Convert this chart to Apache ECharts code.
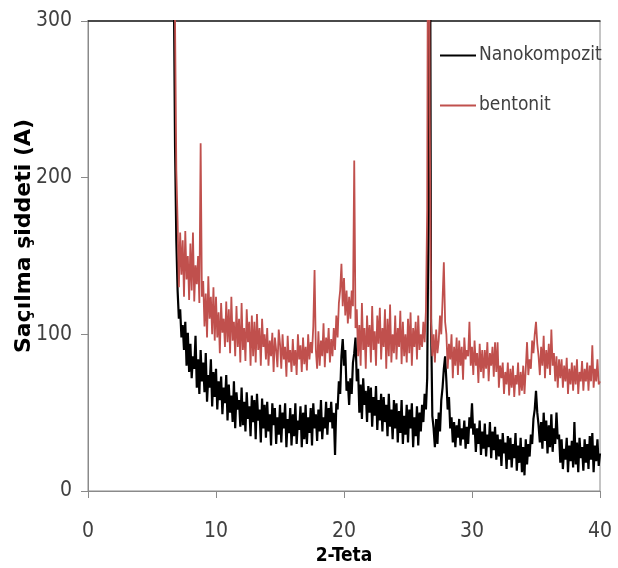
<!DOCTYPE html>
<html>
<head>
<meta charset="utf-8">
<script src="https://cdn.jsdelivr.net/npm/echarts@6/dist/echarts.min.js"></script>
<style>
html,body{margin:0;padding:0;background:#fff;}
#chart{width:618px;height:568px;}
</style>
</head>
<body>
<div id="chart"></div>
<script>
// 2-Teta sampling grid: first angle and step (degrees)
var thetaStart = 6.6;
var thetaStep = 0.1;
var xTicks = [0, 10, 20, 30, 40];
var yTicks = [0, 100, 200, 300];
var seriesNames = ['Nanokompozit', 'bentonit'];

var nanokompozit = [
460,330,220,160,
128,110,116,98,106,90,108,80,101,76,
94,72,86,78,99,66,84,62,90,70,
82,63,88,57,74,66,84,54,76,60,
78,52,70,58,73,49,66,56,74,45,
68,50,61,44,70,40,63,52,58,41,
66,42,57,38,63,46,54,35,61,44,
58,33,62,45,52,31,59,40,55,34,
57,38,49,29,56,42,53,30,47,36,
55,31,50,40,56,28,46,37,53,29,
49,35,56,30,45,39,54,28,50,33,
55,30,47,37,53,29,56,40,49,32,
52,38,58,33,47,40,57,36,53,44,
57,40,50,23,56,52,70,62,86,97,
80,90,64,70,55,72,62,82,88,98,
70,78,50,68,46,72,55,64,44,67,
50,66,41,60,48,67,39,58,45,62,
38,60,44,55,35,62,41,52,33,58,
40,56,31,51,37,58,30,48,36,55,
31,52,40,56,28,47,35,54,29,50,
38,55,44,62,52,72,180,450,110,48,
40,28,46,30,50,38,58,66,78,86,
70,52,60,40,47,31,44,28,42,34,
46,29,40,33,45,27,41,30,47,40,
56,36,43,25,40,30,45,23,38,27,
43,22,36,28,44,21,38,26,41,20,
36,22,33,16,37,24,31,14,35,20,
34,15,30,21,37,13,29,18,34,12,
28,10,33,17,30,22,36,30,46,52,
64,50,42,31,44,27,50,32,45,24,
42,28,49,25,40,30,50,33,36,18,
33,14,27,20,34,12,29,19,32,15,
44,17,31,12,34,21,28,13,33,18,
30,14,35,20,37,12,29,19,33,16,
24
];

var bentonit = [
500,420,300,205,
172,130,165,138,160,124,166,135,150,122,
158,128,165,121,144,132,150,120,222,124,
134,105,126,98,137,110,124,100,130,96,
124,98,114,88,120,101,110,92,121,95,
116,88,124,96,108,86,118,92,110,82,
120,90,104,83,116,95,108,80,112,86,
108,82,113,90,104,80,110,92,100,84,
104,80,96,86,101,76,98,90,79,103,
94,78,100,84,92,73,99,82,90,76,
97,80,90,74,100,84,93,76,98,81,
92,77,100,84,95,88,105,141,90,78,
102,80,96,86,107,79,98,88,104,82,
97,86,104,90,112,98,120,128,145,118,
136,112,128,107,124,110,128,118,211,104,
116,86,106,80,120,90,104,78,112,92,
106,82,118,90,102,80,112,94,117,84,
104,92,116,78,110,86,119,82,100,88,
112,84,104,92,115,81,108,86,100,82,
110,88,114,80,104,92,108,84,112,90,
100,92,108,95,115,180,520,240,108,86,
100,82,103,88,96,112,100,122,146,108,
100,78,94,84,100,72,92,80,98,74,
96,80,92,71,98,84,90,86,108,80,
92,74,96,80,88,69,94,76,90,72,
90,78,95,70,88,80,92,73,95,76,
95,66,80,72,82,62,76,68,82,61,
78,66,80,60,74,68,82,61,76,64,
80,62,78,95,74,84,78,96,88,100,
108,94,86,74,92,80,99,72,90,78,
94,74,103,80,88,70,86,66,84,72,
84,66,80,70,85,62,78,68,82,64,
80,68,84,62,76,70,83,64,78,70,
82,64,80,70,93,66,78,70,84,68,
70
];

function pairs(values) {
  return values.map(function (v, i) {
    return [Math.round((thetaStart + i * thetaStep) * 10) / 10, v];
  });
}

var FONT = "'DejaVu Sans Condensed', 'Liberation Sans Narrow', 'Noto Sans', sans-serif";
var chart = echarts.init(document.getElementById('chart'), null, {renderer: 'canvas'});
chart.setOption({
  animation: false,
  backgroundColor: '#ffffff',
  grid: {left: 88, right: 18, top: 21, bottom: 77, show: true, borderColor: '#8a8a8a', borderWidth: 1, containLabel: false, outerBoundsMode: 'none'},
  legend: {
    orient: 'vertical',
    left: 435,
    top: 41,
    itemWidth: 36,
    itemHeight: 2,
    itemGap: 31,
    data: [
      {name: seriesNames[0], icon: 'rect', itemStyle: {color: '#000000'}},
      {name: seriesNames[1], icon: 'rect', itemStyle: {color: '#C0504D'}}
    ],
    textStyle: {fontFamily: FONT, fontSize: 19, color: '#404040', padding: [0, 0, 0, -2]}
  },
  xAxis: [{
    type: 'value',
    min: xTicks[0],
    max: xTicks[xTicks.length - 1],
    interval: 10,
    name: '2-Teta',
    nameLocation: 'middle',
    nameGap: 50,
    nameTextStyle: {fontFamily: FONT, fontSize: 19, fontWeight: 'bold', color: '#000'},
    axisLine: {lineStyle: {color: '#8a8a8a', width: 1}},
    axisTick: {show: true, inside: false, length: 7, lineStyle: {color: '#8a8a8a'}},
    axisLabel: {fontFamily: FONT, fontSize: 21, color: '#404040', margin: 30},
    splitLine: {show: false}
  }, {
    type: 'value',
    position: 'top',
    min: xTicks[0],
    max: xTicks[xTicks.length - 1],
    axisLine: {show: true, lineStyle: {color: '#222', width: 1.5}},
    axisTick: {show: false},
    axisLabel: {show: false},
    splitLine: {show: false}
  }],
  yAxis: {
    type: 'value',
    min: yTicks[0],
    max: yTicks[yTicks.length - 1],
    interval: 100,
    name: 'Saçılma şiddeti (A)',
    nameLocation: 'middle',
    nameGap: 53,
    nameMoveOverlap: false,
    nameTextStyle: {fontFamily: "'DejaVu Sans', sans-serif", fontSize: 22, fontWeight: 'bold', color: '#000', padding: [0, 0, 0, 40]},
    axisLine: {show: true, lineStyle: {color: '#8a8a8a', width: 1}},
    axisTick: {show: true, inside: false, length: 7, lineStyle: {color: '#8a8a8a'}},
    axisLabel: {fontFamily: FONT, fontSize: 21, color: '#404040', margin: 16},
    splitLine: {show: false}
  },
  series: [{
    name: seriesNames[0],
    type: 'line',
    xAxisIndex: 0,
    data: pairs(nanokompozit),
    showSymbol: false,
    symbol: 'none',
    clip: true,
    lineStyle: {color: '#000000', width: 2.2},
    itemStyle: {color: '#000000'}
  }, {
    name: seriesNames[1],
    type: 'line',
    xAxisIndex: 0,
    data: pairs(bentonit),
    showSymbol: false,
    symbol: 'none',
    clip: true,
    lineStyle: {color: '#C0504D', width: 1.8},
    itemStyle: {color: '#C0504D'}
  }]
});
</script>
</body>
</html>
